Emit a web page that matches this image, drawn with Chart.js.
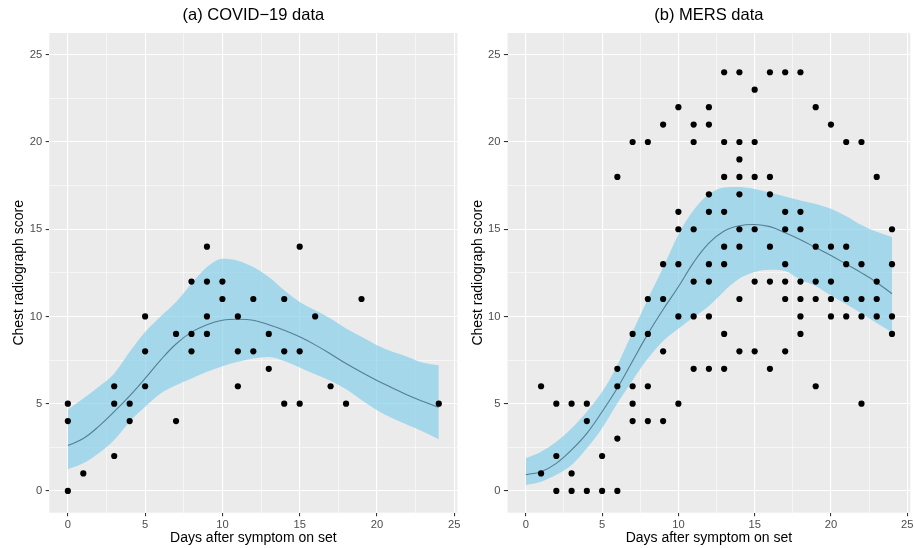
<!DOCTYPE html>
<html><head><meta charset="utf-8">
<script src="https://cdn.jsdelivr.net/npm/chart.js@4.4.1/dist/chart.umd.min.js"></script>
<style>
html,body{margin:0;padding:0;background:#fff;width:915px;height:548px;overflow:hidden}
#c1{position:absolute;left:0;top:0}
#c2{position:absolute;left:462px;top:0}
</style></head><body>
<canvas id="c1" width="462" height="548"></canvas>
<canvas id="c2" width="453" height="548"></canvas>
<script>
// ---- data ----
const covidDays   = [0,0,0, 1, 3,3,3, 4,4, 5,5,5, 7,7, 8,8,8, 9,9,9,9, 10,10, 11,11,11, 12,12, 13,13, 14,14,14, 15,15,15, 16, 17, 18, 19, 24];
const covidScores = [5,4,0, 1, 6,5,2, 5,4, 10,8,6, 9,4, 12,9,8, 14,12,10,9, 12,11, 10,8,6, 11,8, 9,7, 11,8,5, 14,8,5, 10, 6, 5, 11, 5];

const mersDays = [
  1,1, 2,2,2, 3,3,3, 4,4,4, 5,5,
  6,6,6,6,6, 7,7,7,7,7, 8,8,8,8,8, 9,9,9,9,9,
  10,10,10,10,10,10, 11,11,11,11,11,11,
  12,12,12,12,12,12,12,12, 13,13,13,13,13,13,13,13,
  14,14,14,14,14,14,14,14,14, 15,15,15,15,15,15, 16,16,16,16,16,16,
  17,17,17,17,17,17,17, 18,18,18,18,18,18,18, 19,19,19,19,19,
  20,20,20,20,20, 21,21,21,21,21, 22,22,22,22,22, 23,23,23,23, 24,24,24,24];
const mersScores = [
  6,1, 5,2,0, 5,1,0, 5,4,0, 2,0,
  18,7,6,3,0, 20,9,6,5,4, 20,11,9,6,4, 21,13,11,8,4,
  22,16,15,13,10,5, 21,20,15,12,10,7,
  22,21,17,16,13,12,10,7, 24,20,18,16,14,13,9,7,
  24,20,19,18,17,15,14,11,8, 23,20,18,15,12,8, 24,18,17,14,12,7,
  24,16,15,13,12,11,8, 24,16,15,12,11,10,9, 22,14,12,11,6,
  21,14,12,11,10, 20,14,13,11,10, 20,13,11,10,5, 18,12,11,10, 15,13,10,9];

const fitDays    = [0,1,2,3,4,5,6,7,8,9,10,11,12,13,14,15,16,17,18,19,20,21,22,23,24];
const covidFit   = [2.6,3.0,3.7,4.54,5.45,6.45,7.5,8.42,9.1,9.53,9.78,9.84,9.78,9.52,9.21,8.83,8.37,7.85,7.3,6.8,6.33,5.9,5.48,5.12,4.79];
const covidUpper = [4.67,5.3,5.97,6.73,7.97,9.11,10.0,10.83,11.88,12.83,13.31,13.2,12.83,12.26,11.5,10.83,10.35,9.88,9.31,8.83,8.35,7.97,7.68,7.34,7.2];
const covidLower = [1.24,1.58,2.16,2.92,3.97,4.82,5.59,6.06,6.45,6.83,7.15,7.4,7.59,7.68,7.45,7.08,6.69,6.31,5.82,5.21,4.63,4.16,3.78,3.39,2.96];
const mersFit    = [0.93,1.1,1.58,2.35,3.3,4.54,5.9,7.45,9.0,10.4,11.7,13.1,14.2,14.9,15.2,15.27,15.15,14.8,14.4,13.95,13.5,13.0,12.5,11.95,11.3];
const mersUpper  = [1.87,2.25,2.82,3.59,4.54,5.68,7.21,9.12,11.0,12.8,14.7,16.1,17.0,17.4,17.42,17.3,17.1,16.88,16.65,16.45,16.17,15.75,15.25,14.85,14.55];
const mersLower  = [0.34,0.53,0.92,1.49,2.44,3.59,5.02,6.35,7.59,8.6,9.3,9.95,10.6,11.45,12.17,12.55,12.68,12.6,12.1,11.75,11.2,10.7,10.17,9.63,9.1];

const majorTicks = [0,5,10,15,20,25];
const minorTicks = [2.5,7.5,12.5,17.5,22.5];

// ---- drawing ----
const FONT = '"Liberation Sans", Arial, Helvetica, sans-serif';
const gridTicks = majorTicks.concat(minorTicks).sort((a,b)=>a-b);
const isMajor = v => majorTicks.includes(v);

const panelBg = {
  id: 'panelBg',
  beforeDraw(chart) {
    const {ctx, chartArea: a} = chart;
    ctx.save();
    ctx.fillStyle = '#EBEBEB';
    ctx.fillRect(a.left, a.top, a.right - a.left, a.bottom - a.top);
    ctx.restore();
  }
};

function pts(xs, ys) { return xs.map((x, i) => ({x: x, y: ys[i]})); }

function axisCommon(min, max) {
  return {
    type: 'linear', min: min, max: max,
    afterBuildTicks: s => { s.ticks = gridTicks.map(v => ({value: v})); },
    border: {display: false},
    grid: {
      color: '#FFFFFF',
      lineWidth: c => (c.tick && isMajor(c.tick.value)) ? 1.1 : 0.55,
      tickColor: c => (c.tick && isMajor(c.tick.value)) ? '#333333' : 'rgba(0,0,0,0)',
      tickWidth: 1.07,
      tickLength: 3.6,
      drawTicks: true
    },
    ticks: {
      autoSkip: false, maxRotation: 0, minRotation: 0,
      color: '#4D4D4D', font: {size: 11.2, family: FONT},
      callback: v => isMajor(v) ? String(v) : ''
    }
  };
}

function makePanel(id, title, days, scores, fit, upper, lower, yW, yTitlePad, rightPad) {
  const xs = axisCommon(-1.2, 25.2);
  xs.afterFit = s => { s.height = 35.3; };
  xs.ticks.padding = 1.5;
  xs.title = {display: true, text: 'Days after symptom on set', color: '#000',
              font: {size: 14, family: FONT}, padding: {top: 0, bottom: 1.8}};
  const ys = axisCommon(-1.25, 26.25);
  ys.afterFit = s => { s.width = yW; };
  ys.ticks.padding = 3.4;
  ys.title = {display: true, text: 'Chest radiograph score', color: '#000',
              font: {size: 14, family: FONT}, padding: {top: yTitlePad, bottom: 0}};

  return new Chart(document.getElementById(id), {
    type: 'scatter',
    data: {
      datasets: [
        {data: pts(days, scores), backgroundColor: '#000', borderWidth: 0,
         pointRadius: 3.1, order: 1},
        {data: pts(fitDays, fit), showLine: true, borderColor: 'rgba(70,110,130,0.85)',
         borderWidth: 1.1, pointRadius: 0, tension: 0.4, fill: false, order: 2},
        {data: pts(fitDays, upper), showLine: true, borderWidth: 0, pointRadius: 0,
         cubicInterpolationMode: 'monotone', fill: '+1',
         backgroundColor: 'rgba(135,206,235,0.7)', order: 3},
        {data: pts(fitDays, lower), showLine: true, borderWidth: 0, pointRadius: 0,
         cubicInterpolationMode: 'monotone', fill: false, order: 4}
      ]
    },
    options: {
      responsive: false, animation: false, devicePixelRatio: 1,
      layout: {padding: {left: 0, right: rightPad, top: 0, bottom: 0}},
      plugins: {
        legend: {display: false}, tooltip: {enabled: false},
        title: {display: true, text: title, color: '#000', fullSize: false,
                font: {size: 16.5, weight: 'normal', family: FONT},
                padding: {top: 6, bottom: 7.2}}
      },
      scales: {x: xs, y: ys}
    },
    plugins: [panelBg]
  });
}

makePanel('c1', '(a) COVID\u221219 data', covidDays, covidScores, covidFit, covidUpper, covidLower, 49.3, 11.2, 4.3);
makePanel('c2', '(b) MERS data', mersDays, mersScores, mersFit, mersUpper, mersLower, 45.5, 7.8, 0.1);
</script>
</body></html>
